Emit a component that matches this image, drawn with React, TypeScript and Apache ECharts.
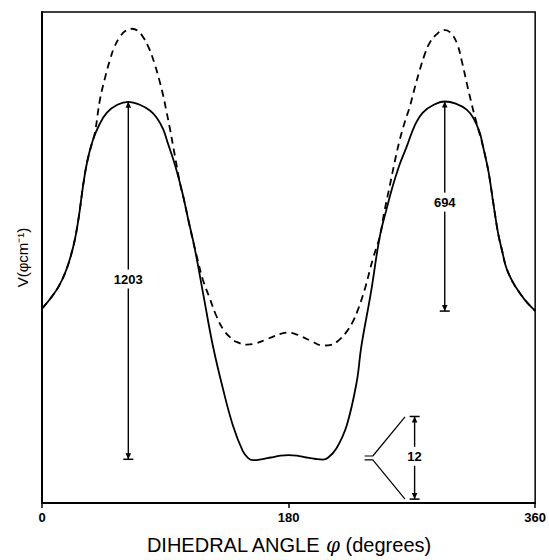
import React, { useEffect, useRef } from "react";
import * as echarts from "echarts";

// Dihedral angle (degrees) and potential V (cm^-1, relative scale)
const solidAngle = [0, 6, 12, 17, 21, 24, 27, 30, 33, 37, 42, 47.4, 55, 63, 71, 79, 84, 88.5, 92, 95.8, 99.5, 103, 106.7, 111.6, 118, 124.7, 132, 139.3, 146.6, 150.5, 154, 160, 167, 174, 180, 186, 193, 200, 205, 209, 215, 222.5, 229.8, 233, 240, 246.6, 252, 256, 261, 266.3, 272, 278, 286, 294, 302, 310, 315, 319.5, 322, 326, 329.5, 333, 336, 339, 344, 349, 354, 360];
const solidV = [649, 682, 722, 770, 825, 880, 960, 1060, 1140, 1210, 1265, 1304, 1330, 1340, 1331, 1310, 1285, 1248, 1200, 1148, 1090, 1026, 948, 848, 690, 526, 383, 260, 173, 150, 143, 146, 152, 158, 160, 158, 152, 147, 145, 152, 183, 260, 406, 520, 700, 890, 990, 1058, 1130, 1191, 1260, 1304, 1330, 1341, 1334, 1314, 1285, 1238, 1190, 1105, 1000, 900, 840, 785, 735, 700, 670, 642];

const dashedAngle = [0, 6, 12, 17, 21, 24, 27, 30, 33, 37, 38.7, 42.3, 46, 49.6, 53, 56.9, 61, 65.7, 70, 74, 78, 82, 85.5, 88.5, 91, 93.4, 97, 100.7, 103, 106.7, 110, 113.1, 117.5, 122.6, 127, 132, 137, 142, 149.5, 156, 163, 170, 175, 179, 184, 190, 197, 205, 211, 217, 222, 226.9, 231, 236, 241.5, 246.6, 250, 253.9, 257.5, 261.2, 265, 268.5, 272, 275.8, 279.5, 283, 288, 293.3, 298, 302.8, 306.5, 310, 313, 316, 319, 322, 326, 329.5, 333, 336, 339, 344, 349, 354, 360];
const dashedV = [649, 682, 722, 770, 825, 880, 960, 1060, 1140, 1210, 1238, 1347, 1420, 1480, 1525, 1557, 1577, 1584, 1577, 1555, 1520, 1470, 1415, 1360, 1305, 1250, 1160, 1068, 1026, 948, 880, 822, 745, 682, 628, 582, 555, 538, 529, 533, 545, 558, 566, 569, 566, 555, 540, 526, 528, 545, 570, 606, 650, 720, 815, 890, 975, 1060, 1140, 1214, 1275, 1324, 1385, 1447, 1500, 1537, 1565, 1580, 1572, 1537, 1475, 1404, 1345, 1290, 1240, 1190, 1105, 1000, 900, 840, 785, 735, 700, 670, 642];

// Dimension arrows (barrier heights)
const arrowX = [63, 294, 272];
const arrowTop = [1340, 1341, 289];
const arrowBottom = [146, 641, 13];
const arrowTopBar = [0, 0, 1];
const arrowBottomBar = [1, 1, 1];
const arrowLabel = ["1203", "694", "12"];
const arrowLabelAt = [748, 1005, 156];

// Scale-break bracket for the magnified "12" barrier
const breakUpper = [[235.5, 157], [241.5, 157], [265, 288]];
const breakLower = [[235.5, 144], [241.5, 144], [265, 13]];

const xTicks = [0, 180, 360];

const FONT = '"Liberation Sans", Arial, sans-serif';

export default function App() {
  const ref = useRef<HTMLDivElement>(null);
  useEffect(() => {
    if (!ref.current) return;
    const chart = echarts.init(ref.current, null, { renderer: "svg" });
    const zip = (a: number[], b: number[]) => a.map((v, i) => [v, b[i]]);
    const arrowData = arrowX.map((x, i) => [x, arrowTop[i], arrowBottom[i], arrowTopBar[i], arrowBottomBar[i], arrowLabelAt[i]]);
    chart.setOption({
      animation: false,
      grid: { left: 42, right: 13, top: 12, bottom: 55, show: true, borderColor: "#000", borderWidth: 1.5 },
      xAxis: {
        type: "value",
        min: xTicks[0],
        max: xTicks[2],
        interval: 180,
        axisLine: { show: true, lineStyle: { color: "#000", width: 2 } },
        axisTick: { show: true, length: 5, lineStyle: { color: "#000", width: 1.5 } },
        axisLabel: { color: "#000", fontWeight: "bold", fontSize: 13, fontFamily: FONT, margin: 8 },
        splitLine: { show: false },
        name: "DIHEDRAL ANGLE {i|φ} (degrees)",
        nameLocation: "middle",
        nameGap: 32,
        nameTextStyle: {
          color: "#000",
          fontSize: 20,
          fontFamily: FONT,
          rich: { i: { fontStyle: "italic", fontSize: 20, fontFamily: '"DejaVu Serif", serif', color: "#000" } },
        },
      },
      yAxis: {
        type: "value",
        min: 0,
        max: 1640,
        axisLine: { show: true, lineStyle: { color: "#000", width: 2 } },
        axisTick: { show: false },
        axisLabel: { show: false },
        splitLine: { show: false },
        name: "V(φcm⁻¹)",
        nameLocation: "middle",
        nameRotate: 90,
        nameGap: 12,
        nameTextStyle: { color: "#000", fontSize: 15, fontFamily: FONT },
      },
      series: [
        {
          type: "line",
          data: zip(dashedAngle, dashedV),
          showSymbol: false,
          smooth: 0.4,
          lineStyle: { color: "#000", width: 1.8, type: [7, 5] },
          z: 2,
        },
        {
          type: "line",
          data: zip(solidAngle, solidV),
          showSymbol: false,
          smooth: 0.4,
          lineStyle: { color: "#000", width: 1.8 },
          z: 3,
        },
        {
          type: "line",
          data: breakUpper,
          showSymbol: false,
          lineStyle: { color: "#000", width: 1.2 },
          z: 3,
        },
        {
          type: "line",
          data: breakLower,
          showSymbol: false,
          lineStyle: { color: "#000", width: 1.2 },
          z: 3,
        },
        {
          type: "custom",
          z: 5,
          data: arrowData,
          renderItem: (params: any, api: any) => {
            const x = api.value(0);
            const p1 = api.coord([x, api.value(1)]);
            const p2 = api.coord([x, api.value(2)]);
            const pl = api.coord([x, api.value(5)]);
            const topBar = api.value(3);
            const botBar = api.value(4);
            const children: any[] = [
              { type: "line", shape: { x1: p1[0], y1: p1[1], x2: p2[0], y2: p2[1] }, style: { stroke: "#000", lineWidth: 1.4 } },
              { type: "polygon", shape: { points: [[p1[0], p1[1]], [p1[0] - 2.8, p1[1] + 6], [p1[0] + 2.8, p1[1] + 6]] }, style: { fill: "#000" } },
              { type: "polygon", shape: { points: [[p2[0], p2[1]], [p2[0] - 2.8, p2[1] - 6], [p2[0] + 2.8, p2[1] - 6]] }, style: { fill: "#000" } },
            ];
            if (topBar) children.push({ type: "line", shape: { x1: p1[0] - 5, y1: p1[1], x2: p1[0] + 5, y2: p1[1] }, style: { stroke: "#000", lineWidth: 1.5 } });
            if (botBar) children.push({ type: "line", shape: { x1: p2[0] - 5, y1: p2[1], x2: p2[0] + 5, y2: p2[1] }, style: { stroke: "#000", lineWidth: 1.5 } });
            children.push({
              type: "text",
              x: pl[0],
              y: pl[1],
              style: {
                text: arrowLabel[params.dataIndex],
                align: "center",
                verticalAlign: "middle",
                font: `bold 13px ${FONT}`,
                fill: "#000",
                backgroundColor: "#fff",
                padding: [3, 1],
              },
            });
            return { type: "group", children };
          },
        },
      ],
    });
    return () => chart.dispose();
  }, []);
  return <div ref={ref} style={{ position: "absolute", left: 0, top: 0, width: 549, height: 560 }} />;
}
